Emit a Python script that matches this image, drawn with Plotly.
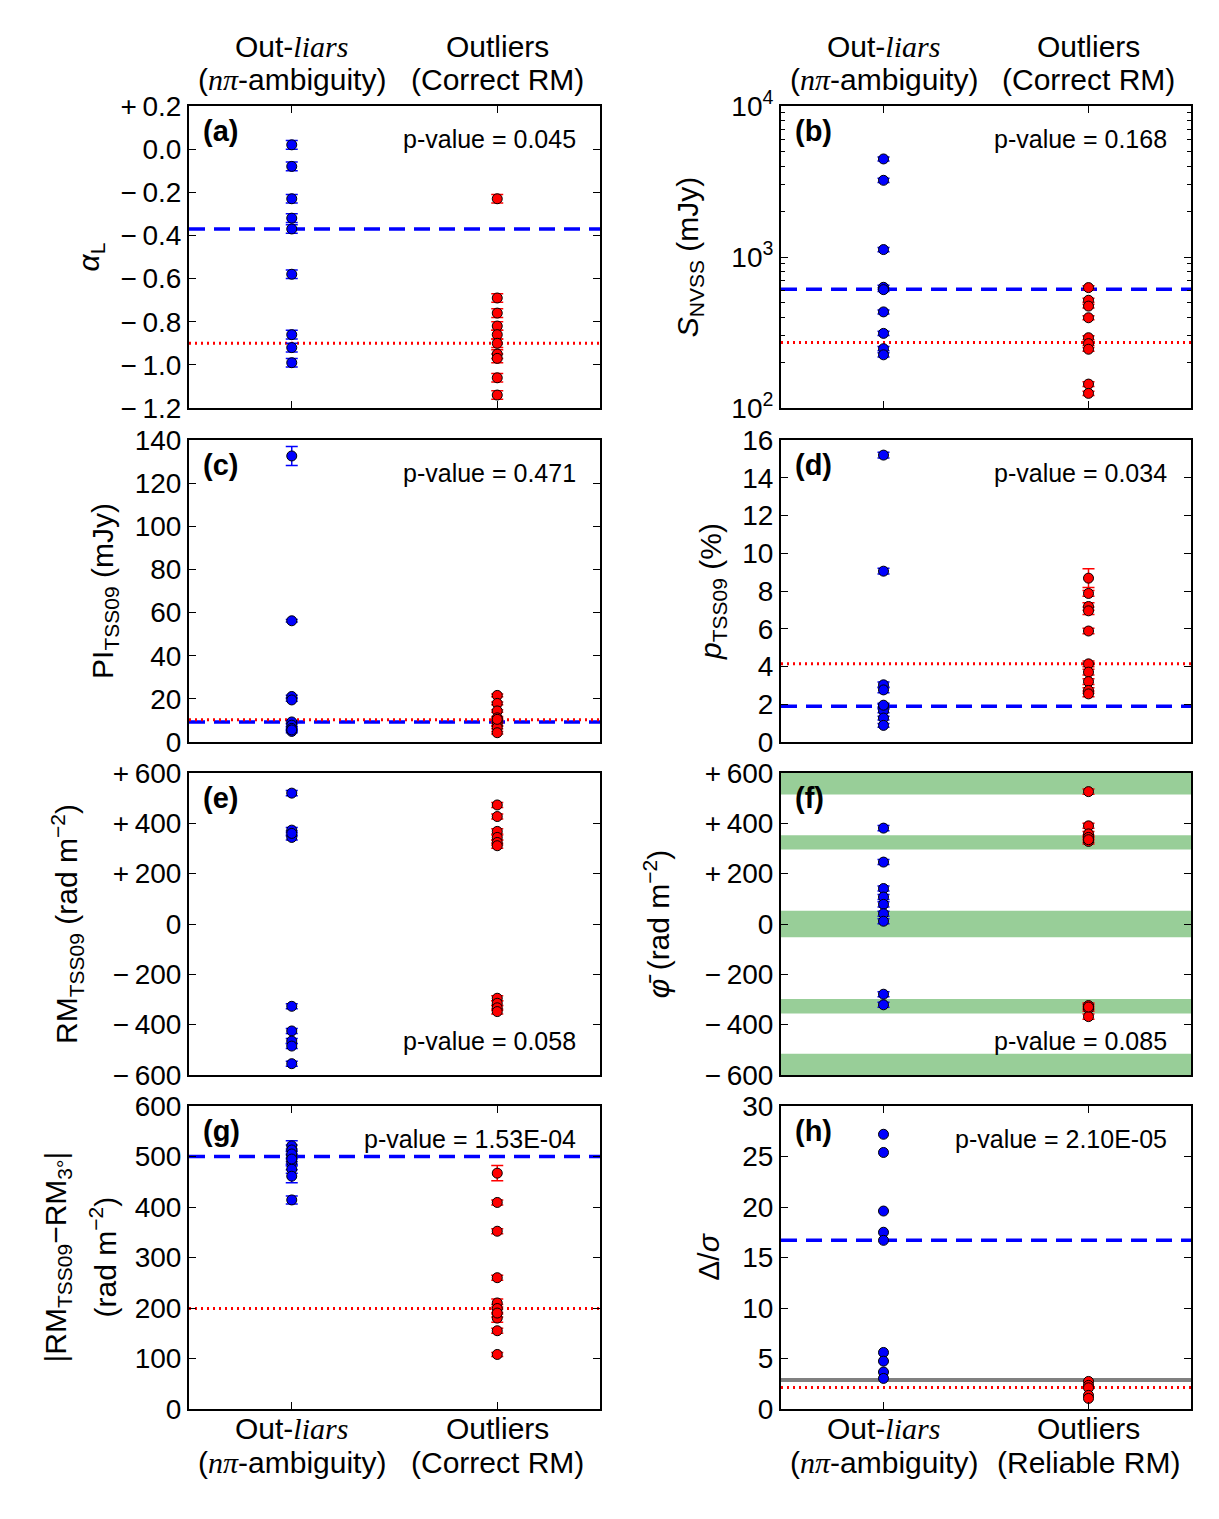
import plotly.graph_objects as go

# ---------------- data ----------------
cats = [0, 1]
SERIF = "font-family:Liberation Serif"
cat_line1 = [f"Out-<span style='{SERIF}'><i>liars</i></span>", "Outliers"]
cat_line2_left = [f"(<span style='{SERIF}'><i>nπ</i></span>-ambiguity)", "(Correct RM)"]
cat_line2_right_bottom = [f"(<span style='{SERIF}'><i>nπ</i></span>-ambiguity)", "(Reliable RM)"]

# (a) alpha_L
a_blue = [0.02, -0.08, -0.23, -0.32, -0.37, -0.58, -0.86, -0.92, -0.99]
a_blue_err = [0.02] * 9
a_red = [-0.23, -0.69, -0.76, -0.82, -0.86, -0.90, -0.95, -0.97, -1.06, -1.14]
a_red_err = [0.02] * 10
a_lines = (-0.37, -0.90)
a_p = "p-value = 0.045"

# (b) S_NVSS
b_blue = [4460, 3220, 1120, 630, 608, 433, 312, 247, 225]
b_blue_err = [130, 100, 35, 20, 18, 13, 10, 8, 7]
b_red = [627, 517, 473, 396, 292, 267, 245, 144, 125]
b_red_err = [19, 16, 14, 12, 9, 8, 7, 5, 4]
b_lines = (611, 272)
b_p = "p-value = 0.168"

# (c) PI_TSS09
c_blue = [132.6, 56.2, 21.1, 19.5, 9.3, 7.8, 6.3, 4.9, 5.6]
c_blue_err = [4.4, 0.6, 0.6, 0.6, 0.6, 0.6, 0.6, 0.6, 0.6]
c_red = [21.6, 17.9, 14.4, 11.2, 9.7, 8.1, 6.7, 4.3, 10.5]
c_red_err = [0.6] * 9
c_lines = (9.3, 10.3)
c_p = "p-value = 0.471"

# (d) p_TSS09
d_blue = [15.2, 9.05, 3.03, 2.76, 1.90, 1.65, 1.27, 0.88, 1.95]
d_blue_err = [0.15, 0.15, 0.15, 0.15, 0.1, 0.1, 0.1, 0.1, 0.1]
d_red = [8.68, 7.87, 7.18, 6.95, 5.88, 4.14, 3.70, 3.20, 2.73, 2.55]
d_red_err = [0.5, 0.15, 0.2, 0.2, 0.15, 0.15, 0.15, 0.15, 0.15, 0.15]
d_lines = (1.9, 4.15)
d_p = "p-value = 0.034"

# (e) RM_TSS09
e_blue = [520, 373, 344, -327, -425, -465, -485, -555, 360]
e_blue_err = [10] * 9
e_red = [473, 427, 368, 344, 324, 311, -295, -315, -333, -348]
e_red_err = [10] * 10
e_p = "p-value = 0.058"

# (f) mean Faraday depth
f_blue = [381, 246, 141, 107, 78, 41, 11, -279, -321]
f_blue_err = [10] * 9
f_red = [526, 390, 358, 344, 328, 335, -324, -337, -368, -330]
f_red_err = [10] * 10
f_bands = [(515, 650), (296, 353), (-53, 53), (-356, -298), (-650, -516)]
f_p = "p-value = 0.085"

# (g) |RM_TSS09 - RM_3deg|
g_blue = [521, 513, 500, 489, 475, 461, 414, 505, 495]
g_blue_err = [10, 10, 10, 8, 8, 13, 8, 10, 10]
g_red = [467, 409, 352, 260, 210, 199, 180, 155, 108, 190]
g_red_err = [15, 5, 5, 5, 8, 8, 8, 5, 4, 8]
g_lines = (500, 199)
g_p = "p-value = 1.53E-04"

# (h) Delta / sigma
h_blue = [27.2, 25.4, 19.6, 17.5, 16.7, 5.6, 4.74, 3.66, 3.03]
h_red = [2.73, 2.34, 2.1, 1.35, 1.05]
h_lines = (16.7, 2.14)
h_gray = 2.87
h_p = "p-value = 2.10E-05"

# ---------------- styling ----------------
W, H = 1219, 1519
FONT = "Liberation Sans, Arial, sans-serif"
BLUE = "#0000ff"
RED = "#ff0000"
SP = "\u2009"  # small extra space after signed tick labels (mathtext-like)
xcol = [(189 / W, 600 / W), (781 / W, 1191 / W)]
yrow = [(106, 408), (440, 742), (773, 1075), (1106, 1409)]
yrow = [(1 - b / H, 1 - t / H) for t, b in yrow]

fig = go.Figure()
layout = dict(width=W, height=H, margin=dict(l=0, r=0, t=0, b=0, autoexpand=False),
              paper_bgcolor="white", plot_bgcolor="white", showlegend=False,
              font=dict(family=FONT, size=28, color="black"))
annotations = []
shapes = []


def sfx(i):
    return "" if i == 1 else str(i)


def add_points(i, vals, errs, color, xpos):
    fig.add_trace(go.Scatter(
        x=[xpos] * len(vals), y=vals, mode="markers", xaxis="x" + sfx(i), yaxis="y" + sfx(i),
        marker=dict(color=color, size=10, line=dict(color="black", width=1)),
        error_y=dict(type="data", array=errs, visible=True,
                     color=color, thickness=1.5, width=6) if errs is not None else None,
        hoverinfo="skip"))


def add_hline(i, yv, color, dash, width):
    fig.add_trace(go.Scatter(
        x=[-0.5, 1.5], y=[yv, yv], mode="lines", xaxis="x" + sfx(i), yaxis="y" + sfx(i),
        line=dict(color=color, dash=dash, width=width), hoverinfo="skip"))


def signed(v, fmt):
    if v > 0:
        return "+" + SP + fmt.format(v)
    if v < 0:
        return "−" + SP + fmt.format(-v)
    return fmt.format(0)


a_tv = [-1.2, -1.0, -0.8, -0.6, -0.4, -0.2, 0.0, 0.2]
rm_tv = list(range(-600, 601, 200))
panels = [
    dict(i=1, lab="(a)", blue=a_blue, be=a_blue_err, red=a_red, re=a_red_err, lines=a_lines, p=a_p,
         yr=[-1.2, 0.2], tv=a_tv, tt=[signed(v, "{:.1f}") for v in a_tv],
         title="<i>α</i><sub>L</sub>", ptop=True, sd=12),
    dict(i=2, lab="(b)", blue=b_blue, be=b_blue_err, red=b_red, re=b_red_err, lines=b_lines, p=b_p,
         yr=[2, 4], tv=[100, 1000, 10000], tt=["10<sup>2</sup>", "10<sup>3</sup>", "10<sup>4</sup>"],
         title="<i>S</i><sub>NVSS</sub> (mJy)", ptop=True, log=True, sd=24),
    dict(i=3, lab="(c)", blue=c_blue, be=c_blue_err, red=c_red, re=c_red_err, lines=c_lines, p=c_p,
         yr=[0, 140], tv=list(range(0, 141, 20)), tt=[str(v) for v in range(0, 141, 20)],
         title="PI<sub>TSS09</sub> (mJy)", ptop=True, sd=12),
    dict(i=4, lab="(d)", blue=d_blue, be=d_blue_err, red=d_red, re=d_red_err, lines=d_lines, p=d_p,
         yr=[0, 16], tv=list(range(0, 17, 2)), tt=[str(v) for v in range(0, 17, 2)],
         title="<i>p</i><sub>TSS09</sub> (%)", ptop=True, sd=12),
    dict(i=5, lab="(e)", blue=e_blue, be=e_blue_err, red=e_red, re=e_red_err, lines=None, p=e_p,
         yr=[-600, 600], tv=rm_tv, tt=[signed(v, "{:d}") for v in rm_tv],
         title="RM<sub>TSS09</sub> (rad m<sup>−2</sup>)", ptop=False, sd=26),
    dict(i=6, lab="(f)", blue=f_blue, be=f_blue_err, red=f_red, re=f_red_err, lines=None, p=f_p,
         yr=[-600, 600], tv=rm_tv, tt=[signed(v, "{:d}") for v in rm_tv],
         title="<i>φ̄</i> (rad m<sup>−2</sup>)", ptop=False, sd=26),
    dict(i=7, lab="(g)", blue=g_blue, be=g_blue_err, red=g_red, re=g_red_err, lines=g_lines, p=g_p,
         yr=[0, 600], tv=list(range(0, 601, 100)), tt=[str(v) for v in range(0, 601, 100)],
         title=None, ptop=True, sd=10),
    dict(i=8, lab="(h)", blue=h_blue, be=None, red=h_red, re=None, lines=h_lines, p=h_p,
         yr=[0, 30], tv=list(range(0, 31, 5)), tt=[str(v) for v in range(0, 31, 5)],
         title="Δ/<i>σ</i>", ptop=True, sd=14),
]
g_title_lines = ["|RM<sub>TSS09</sub>−RM<sub>3°</sub>|", "(rad m<sup>−2</sup>)"]

for k, P in enumerate(panels):
    i = P["i"]
    s = sfx(i)
    row, col = k // 2, k % 2
    if i == 6:
        for lo, hi in f_bands:
            shapes.append(dict(type="rect", xref="x6 domain", yref="y6", x0=0, x1=1,
                               y0=max(lo, -600), y1=min(hi, 600),
                               fillcolor="rgb(152,206,152)", line=dict(width=0), layer="below"))
    if P["lines"] is not None:
        add_hline(i, P["lines"][0], BLUE, "16px,9px", 3.5)
        add_hline(i, P["lines"][1], RED, "2px,4px", 3)
    if i == 8:
        add_hline(i, h_gray, "#808080", "solid", 4)
    add_points(i, P["blue"], P["be"], BLUE, cats[0])
    add_points(i, P["red"], P["re"], RED, cats[1])

    xa = dict(domain=list(xcol[col]), anchor="y" + s, range=[-0.5, 1.5], automargin=False,
              showgrid=False, zeroline=False, showline=True, linecolor="black", linewidth=2,
              tickmode="array", tickvals=cats, ticklen=7, tickwidth=1, tickcolor="black",
              showticklabels=False, fixedrange=True)
    if row in (0, 3):
        xa.update(ticks="inside", mirror="allticks")
    else:
        xa.update(ticks="", mirror=True)

    ya = dict(domain=list(yrow[row]), anchor="x" + s, showgrid=False, zeroline=False,
              showline=True, linecolor="black", linewidth=2, mirror="allticks", automargin=False,
              ticks="inside", ticklen=7, tickwidth=1, tickcolor="black",
              tickmode="array", tickvals=P["tv"], ticktext=P["tt"],
              tickfont=dict(size=28, family=FONT), fixedrange=True)
    if P["title"]:
        ya["title"] = dict(text=P["title"], font=dict(size=30, family=FONT), standoff=P["sd"])
    if P.get("log"):
        ya.update(type="log", range=P["yr"],
                  minor=dict(ticks="inside", ticklen=4, tickcolor="black", tickmode="array",
                             tickvals=[m * d for d in (100, 1000) for m in range(2, 10)]))
    else:
        ya.update(range=P["yr"])
    layout["xaxis" + s] = xa
    layout["yaxis" + s] = ya

    # category labels (top row above, bottom row below)
    if row == 0:
        lines2 = cat_line2_left
        ys = (47, 80)
    elif row == 3:
        lines2 = cat_line2_left if col == 0 else cat_line2_right_bottom
        ys = (1428, 1462)
    else:
        lines2 = None
    if lines2 is not None:
        for c in cats:
            for txt, yp in ((cat_line1[c], ys[0]), (lines2[c], ys[1])):
                annotations.append(dict(text=txt, xref="x" + s, yref="paper", x=c, y=1 - yp / H,
                                        xanchor="center", yanchor="middle", showarrow=False,
                                        font=dict(size=30, family=FONT)))

    annotations.append(dict(text=f"<b>{P['lab']}</b>", xref="x" + s + " domain", yref="y" + s + " domain",
                            x=0.03, y=0.918, xanchor="left", yanchor="middle", showarrow=False,
                            font=dict(size=29, family=FONT)))
    py = 0.89 if P["ptop"] else 0.113
    annotations.append(dict(text=P["p"], xref="x" + s + " domain", yref="y" + s + " domain",
                            x=0.947, y=py, xanchor="right", yanchor="middle", showarrow=False,
                            font=dict(size=25, family=FONT)))

# two-line y title of panel (g)
g_mid = (yrow[3][0] + yrow[3][1]) / 2
for txt, xp in zip(g_title_lines, (57, 104)):
    annotations.append(dict(text=txt, xref="paper", yref="paper", x=xp / W, y=g_mid,
                            xanchor="center", yanchor="middle", textangle=-90, showarrow=False,
                            font=dict(size=30, family=FONT)))

layout["annotations"] = annotations
layout["shapes"] = shapes
fig.update_layout(**layout)
fig.write_html("out.html")
